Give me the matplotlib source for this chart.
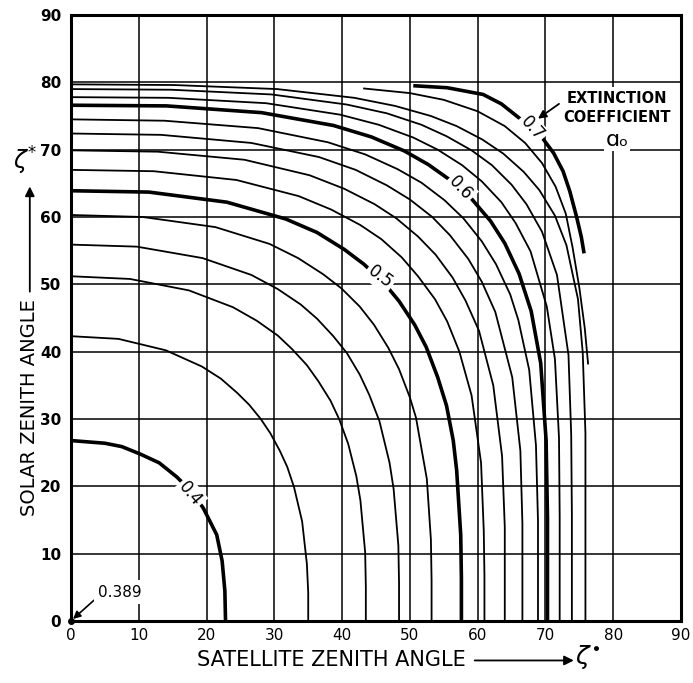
import matplotlib
matplotlib.use("Agg")
import matplotlib.pyplot as plt

# extinction coefficient a0 curves
# x = satellite zenith angle, y = solar zenith angle (degrees)
levels = [0.40, 0.42, 0.44, 0.46, 0.48, 0.50, 0.52, 0.54,
          0.56, 0.58, 0.60, 0.62, 0.64, 0.66, 0.68, 0.70]

x_40 = [0, 5, 7.5, 10.2, 13, 15.6, 17.7, 19.5, 21.5, 22.3, 22.7, 22.8]
y_40 = [26.8, 26.4, 25.9, 24.8, 23.5, 21.4, 19.3, 16.8, 12.8, 8.9, 4.5, 0]
x_42 = [0, 7.0, 14.0, 19.3, 22.1, 24.5, 26.3, 28.0, 29.4, 30.8, 31.9, 32.9, 34.1, 34.8, 35.0, 35.0]
y_42 = [42.3, 41.9, 40.2, 37.8, 36.0, 33.9, 32.1, 30.0, 27.9, 25.3, 22.9, 19.9, 14.8, 8.5, 4.2, 0]
x_44 = [0, 8.7, 17.4, 23.9, 27.4, 30.5, 32.6, 34.8, 36.5, 38.3, 39.6, 40.9, 42.1, 42.7, 43.4, 43.5, 43.5]
y_44 = [51.2, 50.8, 49.1, 46.6, 44.6, 42.4, 40.4, 38.0, 35.6, 32.7, 29.9, 26.3, 21.5, 17.9, 10.2, 5.1, 0]
x_46 = [0, 9.7, 19.4, 26.6, 30.5, 33.9, 36.3, 38.7, 40.7, 42.6, 44.0, 45.5, 47.0, 47.6, 48.3, 48.4, 48.4]
y_46 = [55.9, 55.6, 53.9, 51.4, 49.3, 47.0, 44.9, 42.3, 39.8, 36.6, 33.6, 29.7, 23.5, 19.6, 11.2, 5.6, 0]
x_48 = [0, 10.6, 21.3, 29.3, 33.5, 37.2, 39.9, 42.6, 44.7, 46.8, 48.4, 50.0, 50.9, 52.5, 53.1, 53.2, 53.2]
y_48 = [60.3, 60.0, 58.5, 56.0, 53.9, 51.5, 49.4, 46.7, 44.0, 40.6, 37.4, 33.2, 30.2, 21.1, 12.1, 6.0, 0]
x_50 = [0, 11.5, 23.0, 31.7, 36.3, 40.3, 43.2, 46.1, 48.4, 50.7, 52.4, 54.1, 55.4, 56.4, 56.9, 57.5, 57.6, 57.6]
y_50 = [63.9, 63.7, 62.2, 59.7, 57.7, 55.2, 53.0, 50.3, 47.5, 44.0, 40.7, 36.2, 32.0, 26.8, 22.4, 12.8, 6.4, 0]
x_52 = [0, 12.2, 24.4, 33.6, 38.4, 42.7, 45.8, 48.8, 51.2, 53.7, 55.5, 57.3, 59.1, 60.5, 60.9, 61.0, 61.0]
y_52 = [67.0, 66.8, 65.5, 63.1, 61.1, 58.8, 56.7, 54.0, 51.2, 47.8, 44.5, 40.0, 33.5, 23.5, 13.4, 6.7, 0]
x_54 = [0, 12.8, 25.6, 35.2, 40.3, 44.8, 48.0, 51.2, 53.8, 56.3, 58.2, 60.2, 62.3, 63.6, 64.0, 64.0]
y_54 = [69.9, 69.7, 68.5, 66.2, 64.2, 61.9, 59.8, 57.1, 54.4, 51.0, 47.6, 43.1, 35.0, 24.5, 14.0, 0]
x_56 = [0, 13.3, 26.6, 36.6, 42.0, 46.6, 50.0, 53.3, 55.9, 58.6, 60.6, 62.6, 65.1, 66.3, 66.6, 66.6]
y_56 = [72.4, 72.2, 71.0, 68.9, 67.0, 64.7, 62.6, 60.0, 57.3, 53.8, 50.4, 45.9, 36.2, 25.3, 14.5, 0]
x_58 = [0, 13.8, 27.6, 37.9, 43.4, 48.2, 51.7, 55.1, 57.9, 60.6, 62.7, 64.8, 66.0, 67.6, 68.6, 68.9, 68.9]
y_58 = [74.5, 74.3, 73.2, 71.1, 69.3, 67.1, 65.1, 62.5, 59.8, 56.4, 53.0, 48.5, 44.7, 37.3, 26.1, 14.9, 0]
x_60 = [0, 14.1, 28.1, 38.7, 44.3, 49.2, 52.7, 56.2, 59.1, 61.9, 64.0, 66.1, 67.9, 69.3, 70.1, 70.3, 70.3]
y_60 = [76.6, 76.5, 75.5, 73.6, 71.9, 69.8, 67.8, 65.3, 62.7, 59.4, 56.1, 51.6, 46.0, 38.3, 26.8, 15.3, 0]
x_62 = [0, 14.4, 28.8, 39.7, 45.4, 50.5, 54.1, 57.7, 60.6, 63.5, 65.6, 67.8, 70.2, 71.4, 72.0, 72.1, 72.1]
y_62 = [77.8, 77.7, 76.9, 75.2, 73.7, 71.8, 70.0, 67.7, 65.3, 62.2, 59.1, 54.9, 46.7, 38.9, 27.2, 15.6, 0]
x_64 = [0, 14.8, 29.6, 40.7, 46.6, 51.7, 55.4, 59.1, 62.1, 65.0, 67.2, 69.5, 71.7, 73.4, 73.8, 73.9, 73.9]
y_64 = [79.0, 78.9, 78.2, 76.7, 75.4, 73.7, 72.0, 69.9, 67.7, 64.8, 61.9, 57.8, 51.4, 39.5, 27.7, 15.8, 0]
x_66 = [0, 15.2, 30.4, 41.8, 47.8, 53.1, 56.9, 60.7, 63.8, 66.8, 69.1, 71.4, 73.1, 74.8, 75.5, 75.9, 75.9]
y_66 = [79.7, 79.6, 79.0, 77.7, 76.5, 75.0, 73.5, 71.5, 69.4, 66.7, 64.0, 60.2, 55.8, 47.8, 39.9, 27.9, 0]
x_68 = [43.1, 50, 55, 60, 64, 67, 69.5, 71.5, 73, 74, 75, 75.8, 76.3]
y_68 = [79.1, 78.4, 77.4, 75.7, 73.5, 71.0, 68.0, 64.5, 60.5, 55.5, 49.5, 43.5, 38.1]
x_70 = [50.5, 55.5, 60.8, 63.5, 65.5, 67.5, 69.5, 71.2, 72.6, 73.6, 74.6, 75.3, 75.7]
y_70 = [79.5, 79.2, 78.2, 76.8, 75.2, 73.6, 71.8, 69.5, 66.8, 63.8, 60.0, 57.0, 54.6]

curves_x = [x_40, x_42, x_44, x_46, x_48, x_50, x_52, x_54,
            x_56, x_58, x_60, x_62, x_64, x_66, x_68, x_70]
curves_y = [y_40, y_42, y_44, y_46, y_48, y_50, y_52, y_54,
            y_56, y_58, y_60, y_62, y_64, y_66, y_68, y_70]
bold_levels = [0.40, 0.50, 0.60, 0.70]

label_text = ["0.4", "0.5", "0.6", "0.7"]
ticks = list(range(0, 91, 10))

fig = plt.figure(figsize=(6.93, 6.83), dpi=100)
ax = fig.add_axes([71 / 693, 62 / 683, 610 / 693, 606 / 683])
ax.set_xlim(0, 90)
ax.set_ylim(0, 90)
ax.set_xticks(ticks)
ax.set_yticks(ticks)
ax.set_axisbelow(True)
ax.grid(True, color="black", lw=1.1)
ax.tick_params(length=0)
ax.tick_params(axis="x", pad=5, labelsize=11)
ax.tick_params(axis="y", pad=7, labelsize=11)
for lab in ax.get_yticklabels():
    lab.set_fontweight("bold")
for sp in ax.spines.values():
    sp.set_linewidth(2.2)

# curves
for lev, xs, ys in zip(levels, curves_x, curves_y):
    lw = 2.6 if round(lev, 2) in bold_levels else 1.3
    ax.plot(xs, ys, color="black", lw=lw, zorder=3,
            solid_capstyle="butt", solid_joinstyle="round")

# curve labels sitting in gaps of the bold curves
lab_pos = [(17.6, 18.9, -50), (45.6, 51.1, -37), (57.5, 64.3, -47), (68.0, 73.2, -48)]
for txt, (lx, ly, rot) in zip(label_text, lab_pos):
    ax.text(lx, ly, txt, fontsize=12, rotation=rot, ha="center", va="center",
            rotation_mode="anchor", zorder=5,
            bbox=dict(facecolor="white", edgecolor="none", pad=1.5))

# legend-like note
ax.text(80.5, 76.2, "EXTINCTION\nCOEFFICIENT", fontsize=10.5, fontweight="bold",
        ha="center", va="center", linespacing=1.3, zorder=5,
        bbox=dict(facecolor="white", edgecolor="none", pad=3))
ax.text(80.6, 71.5, "\u0251\u2092", fontsize=16, ha="center", va="center", zorder=5,
        bbox=dict(facecolor="white", edgecolor="none", pad=1))
ax.annotate("", xy=(68.9, 74.6), xytext=(72.0, 76.8), zorder=6,
            arrowprops=dict(arrowstyle="-|>", color="black", lw=1.3,
                            mutation_scale=12, shrinkA=0, shrinkB=0))

# value at the origin
ax.plot([0], [0], "o", color="black", ms=4, clip_on=False, zorder=6)
ax.annotate("0.389", xy=(0.3, 0.3), xytext=(4.0, 4.3), fontsize=11,
            ha="left", va="center", zorder=6,
            bbox=dict(facecolor="white", edgecolor="none", pad=3),
            arrowprops=dict(arrowstyle="-|>", color="black", lw=1.2,
                            mutation_scale=11, relpos=(0, 0.2), shrinkA=0, shrinkB=0))

# axis titles with arrows
fig.text(0.478, 0.034, "SATELLITE ZENITH ANGLE", fontsize=15, ha="center", va="center")
ax.annotate("", xy=(0.828, 0.033), xytext=(0.685, 0.033), xycoords="figure fraction",
            textcoords="figure fraction",
            arrowprops=dict(arrowstyle="-|>", color="black", lw=1.3, mutation_scale=14,
                            shrinkA=0, shrinkB=0))
fig.text(0.848, 0.038, r"$\zeta^{\bullet}$", fontsize=18, ha="center", va="center")

fig.text(0.043, 0.404, "SOLAR ZENITH ANGLE", fontsize=14, rotation=90,
         ha="center", va="center")
ax.annotate("", xy=(0.043, 0.727), xytext=(0.043, 0.573), xycoords="figure fraction",
            textcoords="figure fraction",
            arrowprops=dict(arrowstyle="-|>", color="black", lw=1.3, mutation_scale=14,
                            shrinkA=0, shrinkB=0))
fig.text(0.036, 0.764, r"$\zeta^{*}$", fontsize=17, ha="center", va="center")

fig.savefig("out.png", dpi=100)
